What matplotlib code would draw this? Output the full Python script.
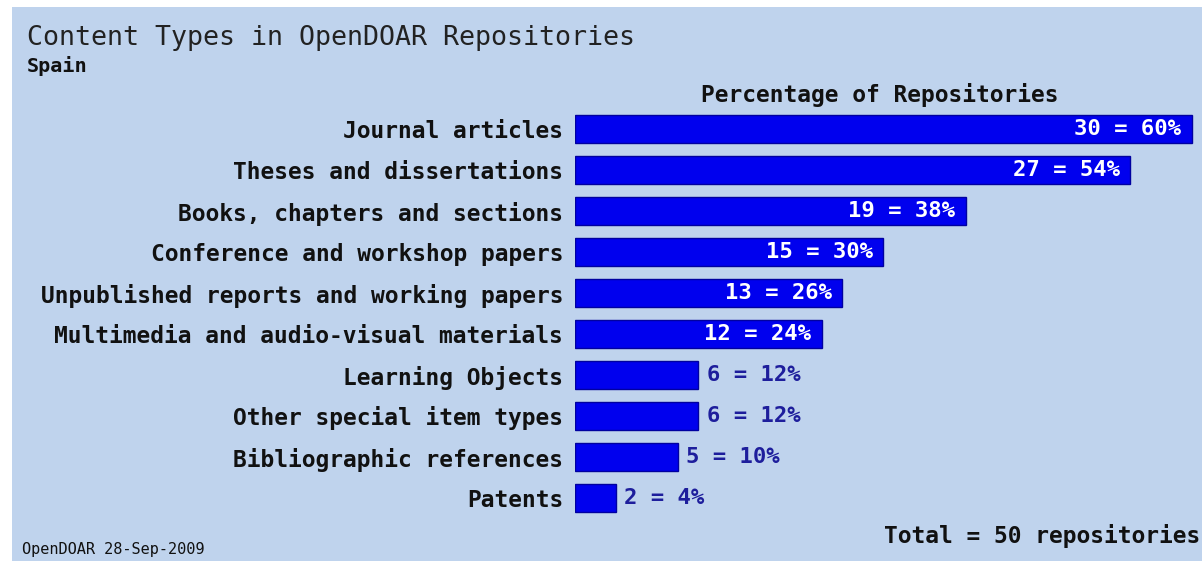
import matplotlib
matplotlib.use('Agg')
import matplotlib.pyplot as plt
from matplotlib.patches import Rectangle

# ---- data ----
categories = [
    "Journal articles",
    "Theses and dissertations",
    "Books, chapters and sections",
    "Conference and workshop papers",
    "Unpublished reports and working papers",
    "Multimedia and audio-visual materials",
    "Learning Objects",
    "Other special item types",
    "Bibliographic references",
    "Patents",
]
counts = [30, 27, 19, 15, 13, 12, 6, 6, 5, 2]
percents = [60, 54, 38, 30, 26, 24, 12, 12, 10, 4]
total_repos = 50
title = "Content Types in OpenDOAR Repositories"
subtitle = "Spain"
axis_title = "Percentage of Repositories"
footer = "OpenDOAR 28-Sep-2009"

# ---- style ----
W, H = 1202, 561
BG = '#bfd3ed'
BAR = '#0000ee'
BAR_EDGE = '#0000a0'
OUT_TXT = '#1e1e9c'
MONO = 'DejaVu Sans Mono'

fig = plt.figure(figsize=(W / 100, H / 100), dpi=100)
fig.patch.set_facecolor('white')
fig.patches.append(Rectangle((12 / W, 0), 1 - 12 / W, 1 - 7 / H,
                             transform=fig.transFigure, facecolor=BG,
                             edgecolor='none', zorder=-10))

n = len(categories)
row_px = 41
top_px = 129 - row_px / 2
ax = fig.add_axes([575 / W, 1 - (top_px + n * row_px) / H,
                   (W - 575) / W, n * row_px / H])
ax.set_facecolor('none')
px_per_pct = 10.28
ax.set_xlim(0, (W - 575) / px_per_pct)
ax.set_ylim(n - 0.5, -0.5)

ax.barh(range(n), percents, height=28 / row_px, color=BAR,
        edgecolor=BAR_EDGE, linewidth=1)
ax.set_yticks(range(n))
ax.set_yticklabels(categories, fontfamily=MONO, fontweight='bold',
                   fontsize=16.5, color='#111111')
ax.tick_params(axis='y', length=0, pad=8.6)
ax.set_xticks([])
for s in ax.spines.values():
    s.set_visible(False)

for i, (c, p) in enumerate(zip(counts, percents)):
    txt = f"{c} = {p}%"
    if p >= 20:
        ax.annotate(txt, (p, i), xytext=(-7.5, 0), textcoords='offset points',
                    ha='right', va='center', color='white',
                    fontfamily=MONO, fontweight='bold', fontsize=16)
    else:
        ax.annotate(txt, (p, i), xytext=(6, 0), textcoords='offset points',
                    ha='left', va='center', color=OUT_TXT,
                    fontfamily=MONO, fontweight='bold', fontsize=16)

fig.text(27 / W, 1 - 45 / H, title, fontfamily=MONO, fontsize=19.2,
         color='#222222', va='baseline', ha='left')
fig.text(27 / W, 1 - 72 / H, subtitle, fontfamily=MONO, fontweight='bold',
         fontsize=14.5, color='#111111', va='baseline', ha='left')
fig.text(880 / W, 1 - 95 / H, axis_title, fontfamily=MONO, fontweight='bold',
         fontsize=16.5, color='#111111', va='center', ha='center')
fig.text(1200 / W, 1 - 543 / H, f"Total = {total_repos} repositories",
         fontfamily=MONO, fontweight='bold', fontsize=16.5, color='#111111',
         va='baseline', ha='right')
fig.text(22 / W, 1 - 554 / H, footer, fontfamily=MONO, fontsize=11,
         color='#111111', va='baseline', ha='left')

fig.savefig('out.png', dpi=100, facecolor=fig.get_facecolor())
